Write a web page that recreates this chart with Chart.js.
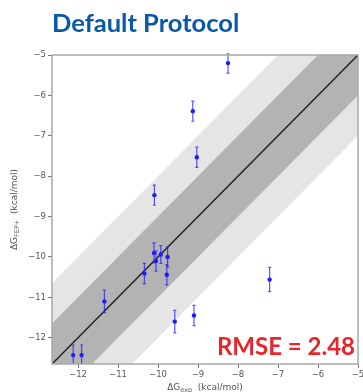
<!DOCTYPE html>
<html>
<head>
<meta charset="utf-8">
<script src="https://cdn.jsdelivr.net/npm/chart.js@4.4.0/dist/chart.umd.min.js"></script>
<style>
  html, body { margin: 0; padding: 0; background: #fff; }
  #wrap { position: relative; width: 363px; height: 392px; overflow: hidden; }
  #wrap canvas { position: absolute; left: 0; top: 0; }
  #title {
    position: absolute; left: 52px; top: 7px; z-index: 2;
    font: bold 25.5px Lato, sans-serif; color: #0a58a8; white-space: nowrap;
  }
  #rmse {
    position: absolute; right: 8px; top: 331px; z-index: 2;
    font: bold 24px Lato, sans-serif; color: #e8252b; white-space: nowrap;
  }
</style>
</head>
<body>
<div id="wrap">
  <div id="title">Default Protocol</div>
  <canvas id="chart" width="363" height="392"></canvas>
  <div id="rmse">RMSE = 2.48</div>
</div>
<script>
// Experimental vs. predicted binding free energies (kcal/mol)
const expValues = [-12.12, -11.91, -11.34, -10.34, -10.10, -10.05, -9.93, -9.76, -9.78, -10.09, -9.13, -9.03, -8.25, -9.58, -9.10, -7.21];
const fepValues = [-12.43, -12.43, -11.10, -10.41, -9.90, -10.10, -9.94, -10.00, -10.44, -8.47, -6.39, -7.53, -5.20, -11.60, -11.45, -10.56];
const fepErrors = [0.25, 0.25, 0.28, 0.25, 0.25, 0.25, 0.22, 0.25, 0.25, 0.25, 0.25, 0.25, 0.25, 0.28, 0.25, 0.3];

const tickValues = [-12, -11, -10, -9, -8, -7, -6, -5];
const axisMin = -12.65;
const axisMax = -5;

// identity line and the +/-1 and +/-2 kcal/mol bands
const lineEnds = [-14, -3];
const bandWidths = [1, 2];

const fmt = v => String(v).replace('-', '\u2212');

function edge(offset) {
    return lineEnds.map(x => ({ x: x, y: x + offset }));
}

function drawLabel(ctx, parts, cx, cy) {
    // parts: [text, isSubscript]
    const mainFont = '9px "DejaVu Sans"';
    const subFont = '6.5px "DejaVu Sans"';
    let total = 0;
    parts.forEach(([t, sub]) => {
        ctx.font = sub ? subFont : mainFont;
        total += ctx.measureText(t).width;
    });
    let x = cx - total / 2;
    ctx.textBaseline = 'middle';
    ctx.textAlign = 'left';
    parts.forEach(([t, sub]) => {
        ctx.font = sub ? subFont : mainFont;
        ctx.fillText(t, x, sub ? cy + 2.5 : cy);
        x += ctx.measureText(t).width;
    });
}

const extras = {
    id: 'extras',
    afterDatasetsDraw(chart) {
        const { ctx, chartArea: a, scales: { x, y } } = chart;
        ctx.save();

        // error bars
        ctx.beginPath();
        ctx.rect(a.left, a.top - 2, a.right - a.left, a.bottom - a.top + 2);
        ctx.clip();
        ctx.strokeStyle = 'rgba(30, 30, 255, 0.75)';
        ctx.lineWidth = 1.2;
        expValues.forEach((v, i) => {
            const px = x.getPixelForValue(v);
            const top = y.getPixelForValue(fepValues[i] + fepErrors[i]);
            const bot = y.getPixelForValue(fepValues[i] - fepErrors[i]);
            ctx.beginPath();
            ctx.moveTo(px, top);
            ctx.lineTo(px, bot);
            ctx.moveTo(px - 1.5, top);
            ctx.lineTo(px + 1.5, top);
            ctx.moveTo(px - 1.5, bot);
            ctx.lineTo(px + 1.5, bot);
            ctx.stroke();
        });
        ctx.restore();

        ctx.save();
        // frame
        ctx.strokeStyle = '#a8a8a8';
        ctx.lineWidth = 1.5;
        ctx.strokeRect(a.left, a.top, a.right - a.left, a.bottom - a.top);

        // axis titles
        ctx.fillStyle = '#555';
        drawLabel(ctx, [['\u0394G', false], ['exp', true], ['  (kcal/mol)', false]], (a.left + a.right) / 2, 388);
        ctx.translate(15, (a.top + a.bottom) / 2);
        ctx.rotate(-Math.PI / 2);
        drawLabel(ctx, [['\u0394G', false], ['FEP+', true], ['  (kcal/mol)', false]], 0, 0);
        ctx.restore();
    }
};

const tickFont = { family: 'DejaVu Sans', size: 8.5 };

function axis(isX) {
    return {
        type: 'linear',
        min: axisMin,
        max: axisMax,
        afterBuildTicks: s => { s.ticks = tickValues.map(v => ({ value: v })); },
        afterFit: s => {
            if (isX) s.height = 28; else s.width = 52;
            s.paddingLeft = s.paddingRight = s.paddingTop = s.paddingBottom = 0;
        },
        ticks: {
            callback: v => fmt(v),
            color: '#555',
            font: tickFont,
            padding: 2,
            maxRotation: 0,
            autoSkip: false
        },
        grid: {
            drawOnChartArea: false,
            tickLength: 4,
            color: '#777'
        },
        border: { display: false }
    };
}

new Chart(document.getElementById('chart'), {
    type: 'line',
    data: {
        datasets: [
            {
                label: 'FEP+',
                data: expValues.map((v, i) => ({ x: v, y: fepValues[i] })),
                showLine: false,
                pointRadius: 2.2,
                pointBackgroundColor: '#1c1cff',
                pointBorderColor: '#1c1cff',
                pointBorderWidth: 0
            },
            {
                label: 'identity',
                data: edge(0),
                borderColor: '#222',
                borderWidth: 1.5,
                pointRadius: 0
            },
            {
                label: 'upper 1',
                data: edge(bandWidths[0]),
                borderWidth: 0,
                pointRadius: 0,
                backgroundColor: '#b3b3b3',
                fill: '+1'
            },
            {
                label: 'lower 1',
                data: edge(-bandWidths[0]),
                borderWidth: 0,
                pointRadius: 0
            },
            {
                label: 'upper 2',
                data: edge(bandWidths[1]),
                borderWidth: 0,
                pointRadius: 0,
                backgroundColor: '#e5e5e5',
                fill: '+1'
            },
            {
                label: 'lower 2',
                data: edge(-bandWidths[1]),
                borderWidth: 0,
                pointRadius: 0
            }
        ]
    },
    options: {
        responsive: false,
        animation: false,
        layout: { padding: { top: 55, right: 5, left: 0, bottom: 0 } },
        plugins: {
            legend: { display: false },
            title: { display: false },
            tooltip: { enabled: false }
        },
        scales: {
            x: axis(true),
            y: axis(false)
        }
    },
    plugins: [extras]
});
</script>
</body>
</html>
